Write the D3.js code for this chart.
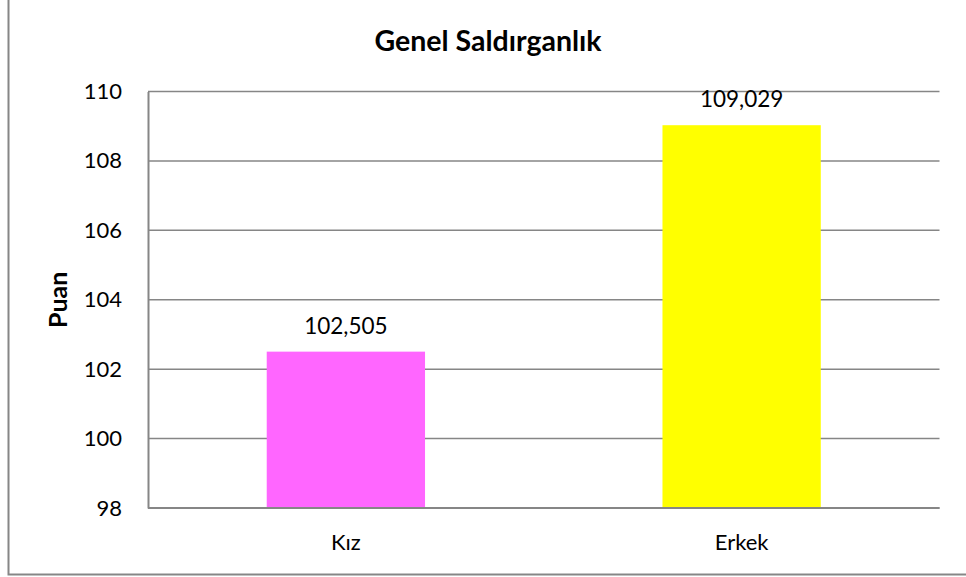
<!DOCTYPE html>
<html>
<head>
<meta charset="utf-8">
<script src="https://cdn.jsdelivr.net/npm/d3@7"></script>
<style>
  body { margin: 0; background: #fff; }
  text { font-family: Lato, "Open Sans", sans-serif; fill: #000; }
</style>
</head>
<body>
<div id="chart"></div>
<script>
// data
const categories = ['Kız', 'Erkek'];
const values = [102.505, 109.029];
const colors = ['#FF66FF', '#FFFF00'];
const yTicks = [98, 100, 102, 104, 106, 108, 110];
const title = 'Genel Saldırganlık';
const yLabel = 'Puan';

const width = 966, height = 577;
const margin = { top: 91.5, right: 26.5, bottom: 69, left: 148 };

const svg = d3.select('#chart')
  .append('svg')
  .attr('width', width)
  .attr('height', height);

// outer chart border (cropped at top/right in the reference)
svg.append('rect')
  .attr('x', 8.5).attr('y', -5)
  .attr('width', 1000).attr('height', 579.5)
  .attr('fill', 'none')
  .attr('stroke', '#868686')
  .attr('stroke-width', 2);

const x = d3.scaleBand()
  .domain(categories)
  .range([margin.left, width - margin.right])
  .paddingInner(0.6)
  .paddingOuter(0.3);

const y = d3.scaleLinear()
  .domain([98, 110])
  .range([height - margin.bottom, margin.top]);

// gridlines
svg.append('g')
  .selectAll('line')
  .data(yTicks)
  .join('line')
  .attr('x1', margin.left).attr('x2', width - margin.right)
  .attr('y1', d => y(d)).attr('y2', d => y(d))
  .attr('stroke', '#868686')
  .attr('stroke-width', 1.5);

// bars
svg.append('g')
  .selectAll('rect')
  .data(values)
  .join('rect')
  .attr('x', (d, i) => x(categories[i]))
  .attr('y', d => y(d))
  .attr('width', x.bandwidth())
  .attr('height', d => y(98) - y(d))
  .attr('fill', (d, i) => colors[i]);

// y axis
const yAxis = svg.append('g')
  .attr('transform', `translate(${margin.left},0)`)
  .call(d3.axisLeft(y).tickValues(yTicks).tickSize(0).tickPadding(26));
yAxis.select('.domain').attr('stroke', '#868686').attr('stroke-width', 2);
yAxis.selectAll('text').style('font-size', '22px').style('font-family', 'Lato, sans-serif');

// x axis
const xAxis = svg.append('g')
  .attr('transform', `translate(0,${y(98)})`)
  .call(d3.axisBottom(x).tickSize(0).tickPadding(26));
xAxis.select('.domain').attr('stroke', '#868686').attr('stroke-width', 2)
  .attr('d', `M${margin.left},0H${width - margin.right}`);
xAxis.selectAll('text').style('font-size', '22px').style('font-family', 'Lato, sans-serif');

// data labels
svg.append('g')
  .selectAll('text')
  .data(values)
  .join('text')
  .attr('x', (d, i) => x(categories[i]) + x.bandwidth() / 2)
  .attr('y', d => y(d) - 18)
  .attr('text-anchor', 'middle')
  .style('font-size', '22.5px')
  .text(d => d.toFixed(3).replace('.', ','));

// title
svg.append('text')
  .attr('x', 488)
  .attr('y', 51)
  .attr('text-anchor', 'middle')
  .style('font-size', '28.5px')
  .style('font-weight', 'bold')
  .text(title);

// y label
svg.append('text')
  .attr('transform', `translate(67,${(margin.top + height - margin.bottom) / 2}) rotate(-90)`)
  .attr('text-anchor', 'middle')
  .style('font-size', '25px')
  .style('font-weight', 'bold')
  .text(yLabel);
</script>
</body>
</html>
